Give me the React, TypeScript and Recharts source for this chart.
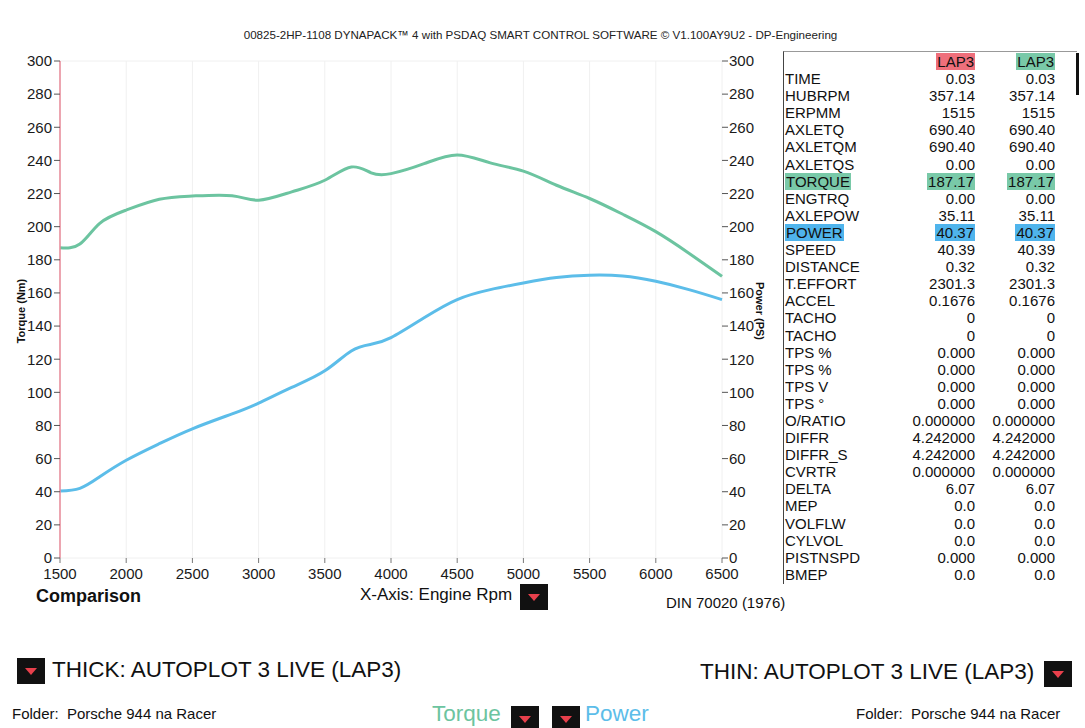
import { LineChart, Line, XAxis, YAxis, CartesianGrid } from 'recharts';

// engine speed samples and the two measured curves
const rpm = [1500, 1650, 1800, 2000, 2250, 2500, 2800, 3000, 3250, 3500, 3700, 3850, 4000, 4250, 4500, 4750, 5000, 5250, 5500, 5750, 6000, 6250, 6500];
const torqueNm = [187.2, 189.5, 202, 210, 216.5, 218.5, 218.7, 216, 221, 228, 236, 232.5, 232, 238, 243.3, 238.5, 233.5, 225, 217, 207.5, 197, 184, 170];
const powerPs = [40.4, 42, 49, 59, 69, 78, 87, 93.5, 103, 113, 125, 129, 133, 145, 156, 162, 166, 169.3, 170.7, 170.2, 167, 162, 156];

const rpmTicks = [1500, 2000, 2500, 3000, 3500, 4000, 4500, 5000, 5500, 6000, 6500];
const valueTicks = [0, 20, 40, 60, 80, 100, 120, 140, 160, 180, 200, 220, 240, 260, 280, 300];

// cursor readout table
const channelNames = ['TIME', 'HUBRPM', 'ERPMM', 'AXLETQ', 'AXLETQM', 'AXLETQS', 'TORQUE', 'ENGTRQ', 'AXLEPOW', 'POWER', 'SPEED', 'DISTANCE', 'T.EFFORT', 'ACCEL', 'TACHO', 'TACHO', 'TPS %', 'TPS %', 'TPS V', 'TPS °', 'O/RATIO', 'DIFFR', 'DIFFR_S', 'CVRTR', 'DELTA', 'MEP', 'VOLFLW', 'CYLVOL', 'PISTNSPD', 'BMEP'];
const thickValues = ['0.03', '357.14', '1515', '690.40', '690.40', '0.00', '187.17', '0.00', '35.11', '40.37', '40.39', '0.32', '2301.3', '0.1676', '0', '0', '0.000', '0.000', '0.000', '0.000', '0.000000', '4.242000', '4.242000', '0.000000', '6.07', '0.0', '0.0', '0.0', '0.000', '0.0'];
const thinValues = ['0.03', '357.14', '1515', '690.40', '690.40', '0.00', '187.17', '0.00', '35.11', '40.37', '40.39', '0.32', '2301.3', '0.1676', '0', '0', '0.000', '0.000', '0.000', '0.000', '0.000000', '4.242000', '4.242000', '0.000000', '6.07', '0.0', '0.0', '0.0', '0.000', '0.0'];

const TORQUE_LINE = '#6cc4a0';
const POWER_LINE = '#5cbde9';
const TORQUE_TAG = '#79c9a8';
const POWER_TAG = '#4fb4ec';
const LAP_RED = '#ef6f7b';

const highlight: Record<string, string> = { TORQUE: TORQUE_TAG, POWER: POWER_TAG };

const chartData = rpm.map((r, i) => ({ rpm: r, torque: torqueNm[i], power: powerPs[i] }));

const FONT = "'Liberation Sans', Arial, sans-serif";

const DropBox = ({ left, top }: { left: number; top: number }) => (
  <div style={{ position: 'absolute', left, top, width: 28, height: 26, background: '#111' }}>
    <svg width={28} height={26} style={{ display: 'block' }}>
      <polygon points="8,10 20,10 14,17" fill="#e8404c" />
    </svg>
  </div>
);

const Tag = ({ bg, children }: { bg?: string; children: string }) => (
  <span style={{ background: bg, padding: bg ? '0 1px' : 0 }}>{children}</span>
);

const TableRow = ({ label, a, b, bgLabel, bgA, bgB }: { label: string; a: string; b: string; bgLabel?: string; bgA?: string; bgB?: string }) => (
  <div style={{ display: 'flex', height: 17.1, lineHeight: '17.1px', whiteSpace: 'nowrap' }}>
    <div style={{ width: 119, paddingLeft: 1 }}>
      <Tag bg={bgLabel}>{label}</Tag>
    </div>
    <div style={{ width: 71, textAlign: 'right' }}>
      <Tag bg={bgA}>{a}</Tag>
    </div>
    <div style={{ width: 80, textAlign: 'right' }}>
      <Tag bg={bgB}>{b}</Tag>
    </div>
  </div>
);

export default function App() {
  const tickStyle = { fontSize: 15, fill: '#1a1a1a', fontFamily: FONT };
  return (
    <div style={{ position: 'absolute', left: 0, top: 0, width: 1085, height: 728, overflow: 'hidden', background: '#fff', fontFamily: FONT, color: '#111' }}>
      <div style={{ position: 'absolute', left: 0, top: 28, width: 1081, textAlign: 'center', fontSize: 11.6, color: '#222', whiteSpace: 'nowrap' }}>
        00825-2HP-1108 DYNAPACK™ 4 with PSDAQ SMART CONTROL SOFTWARE © V1.100AY9U2 - DP-Engineering
      </div>

      <div style={{ position: 'absolute', left: 0, top: 0 }}>
        <LineChart width={790} height={600} data={chartData} margin={{ top: 61, right: 24, bottom: 12, left: 20 }}>
          <CartesianGrid stroke="#f0f0f0" strokeWidth={1} />
          <XAxis
            dataKey="rpm"
            type="number"
            domain={[1500, 6500]}
            ticks={rpmTicks}
            axisLine={false}
            tickLine={{ stroke: '#777' }}
            tickSize={5}
            tickMargin={5}
            height={30}
            tick={tickStyle}
          />
          <YAxis
            yAxisId="torque"
            domain={[0, 300]}
            ticks={valueTicks}
            width={40}
            axisLine={{ stroke: '#e88a98', strokeWidth: 1.5 }}
            tickLine={{ stroke: '#555' }}
            tickSize={6}
            tickMargin={2}
            tick={tickStyle}
          />
          <YAxis
            yAxisId="power"
            orientation="right"
            domain={[0, 300]}
            ticks={valueTicks}
            width={44}
            axisLine={false}
            tickLine={{ stroke: '#555' }}
            tickSize={6}
            tickMargin={1}
            tick={tickStyle}
          />
          <Line yAxisId="torque" type="natural" dataKey="torque" stroke={TORQUE_LINE} strokeWidth={3} dot={false} isAnimationActive={false} />
          <Line yAxisId="power" type="natural" dataKey="power" stroke={POWER_LINE} strokeWidth={3} dot={false} isAnimationActive={false} />
        </LineChart>
      </div>

      <div style={{ position: 'absolute', left: 21, top: 311, transform: 'translate(-50%, -50%) rotate(-90deg)', fontSize: 11, fontWeight: 'bold', whiteSpace: 'nowrap' }}>
        Torque (Nm)
      </div>
      <div style={{ position: 'absolute', left: 760, top: 311, transform: 'translate(-50%, -50%) rotate(90deg)', fontSize: 11, fontWeight: 'bold', whiteSpace: 'nowrap' }}>
        Power (PS)
      </div>

      {/* cursor readout */}
      <div style={{ position: 'absolute', left: 783, top: 51, width: 294, height: 533, borderLeft: '1px solid #444', borderTop: '1px solid #999', fontSize: 15, paddingTop: 1, boxSizing: 'border-box' }}>
        <TableRow label="" a="LAP3" b="LAP3" bgA={LAP_RED} bgB={TORQUE_TAG} />
        {channelNames.map((name, i) => (
          <TableRow
            key={i}
            label={name}
            a={thickValues[i]}
            b={thinValues[i]}
            bgLabel={highlight[name]}
            bgA={highlight[name]}
            bgB={highlight[name]}
          />
        ))}
      </div>
      <div style={{ position: 'absolute', left: 1076, top: 53, width: 3, height: 42, background: '#111' }} />

      <div style={{ position: 'absolute', left: 36, top: 586, fontSize: 18, fontWeight: 'bold' }}>Comparison</div>
      <div style={{ position: 'absolute', left: 360, top: 585, fontSize: 17 }}>X-Axis: Engine Rpm</div>
      <DropBox left={520} top={584} />
      <div style={{ position: 'absolute', left: 666, top: 594, fontSize: 15 }}>DIN 70020 (1976)</div>

      <DropBox left={17} top={658} />
      <div style={{ position: 'absolute', left: 52, top: 657, fontSize: 22.5 }}>THICK: AUTOPLOT 3 LIVE (LAP3)</div>
      <div style={{ position: 'absolute', left: 700, top: 659, fontSize: 22.5 }}>THIN: AUTOPLOT 3 LIVE (LAP3)</div>
      <DropBox left={1044} top={661} />

      <div style={{ position: 'absolute', left: 12, top: 705, fontSize: 15, whiteSpace: 'pre' }}>Folder:  Porsche 944 na Racer</div>
      <div style={{ position: 'absolute', left: 432, top: 701, fontSize: 22.5, color: TORQUE_LINE }}>Torque</div>
      <DropBox left={511} top={706} />
      <DropBox left={552} top={706} />
      <div style={{ position: 'absolute', left: 585, top: 701, fontSize: 22.5, color: POWER_LINE }}>Power</div>
      <div style={{ position: 'absolute', left: 856, top: 705, fontSize: 15, whiteSpace: 'pre' }}>Folder:  Porsche 944 na Racer</div>
    </div>
  );
}
